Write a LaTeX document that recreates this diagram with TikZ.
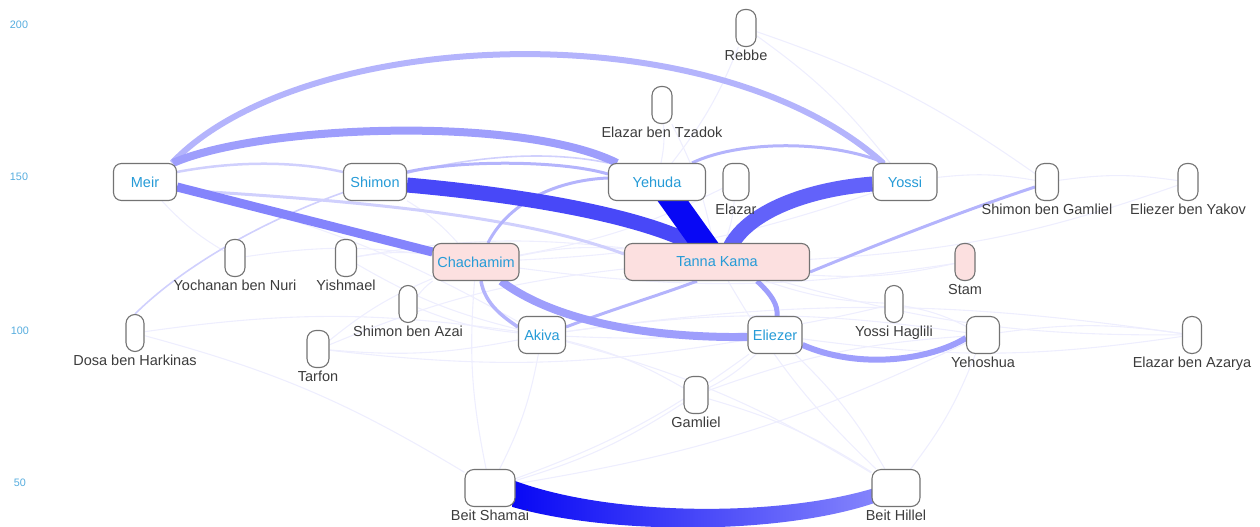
\documentclass[tikz,border=0pt]{standalone}
\usepackage{fontspec}
\setmainfont{Liberation Sans}
\usetikzlibrary{backgrounds}

\definecolor{nameblue}{RGB}{38,155,215}
\definecolor{axisblue}{RGB}{85,172,222}
\definecolor{taggray}{RGB}{60,60,60}
\definecolor{boxgray}{RGB}{115,115,115}
\definecolor{tkpink}{RGB}{252,224,224}
\definecolor{tie0}{RGB}{8,8,245}
\definecolor{tie1}{RGB}{72,72,248}
\definecolor{tie2}{RGB}{98,98,250}
\definecolor{tie3}{RGB}{132,132,252}
\definecolor{tie4}{RGB}{158,158,252}
\definecolor{tie5}{RGB}{180,180,252}
\definecolor{tie6}{RGB}{208,208,253}
\definecolor{tie7}{RGB}{238,238,254}

\newcommand{\rabbifont}{\fontsize{14.5}{17}\selectfont}
\newcommand{\axisfont}{\fontsize{10.8}{13}\selectfont}

\tikzset{
  rabbi/.style={draw=boxgray, line width=1.1pt, rounded corners=8pt, fill=white,
    minimum height=37pt, inner sep=0pt, text=nameblue, font=\rabbifont},
  tkbox/.style={rabbi, fill=tkpink},
  slot/.style={rabbi, minimum width=#1, rounded corners=9pt},
  tag/.style={text=taggray, font=\rabbifont, inner sep=0pt, text height=10.5pt, text depth=3pt},
  axis/.style={text=axisblue, font=\axisfont},
  tie/.style={line width=#1},
  faint/.style={draw=tie7, line width=1.1pt}
}

\begin{document}
\begin{tikzpicture}[x=1pt, y=-1pt, label distance=3pt]
  \useasboundingbox (0,0) rectangle (1260,527);

  % axis
  \node[axis] (ax200) at (19,25) {200};
  \node[axis] (ax150) at (19,177) {150};
  \node[axis] (ax100) at (20,331) {100};
  \node[axis] (ax50) at (20,483) {50};

  % rabbis
  \node[rabbi, minimum width=63pt] (meir) at (145,182) {Meir};
  \node[rabbi, minimum width=63pt] (shimon) at (375,182) {Shimon};
  \node[rabbi, minimum width=97pt] (yehuda) at (657,182) {Yehuda};
  \node[rabbi, minimum width=64pt] (yossi) at (905,182) {Yossi};
  \node[tkbox, minimum width=86pt] (chach) at (476,262) {Chachamim};
  \node[tkbox, minimum width=185pt] (tk) at (717,262) {Tanna Kama};
  \node[rabbi, minimum width=47pt] (akiva) at (542,335) {Akiva};
  \node[rabbi, minimum width=54pt] (eliezer) at (775,335) {Eliezer};

  \node[slot=20pt, label={[tag]below:Rebbe}] (rebbe) at (746,28) {};
  \node[slot=20pt, label={[tag]below:Elazar ben Tzadok}] (tzadok) at (662,105) {};
  \node[slot=26pt, label={[tag]below:Elazar}] (elazar) at (736,182) {};
  \node[slot=23pt, label={[tag]below:Shimon ben Gamliel}] (sbg) at (1047,182) {};
  \node[slot=20pt, label={[tag]below:Eliezer ben Yakov}] (eby) at (1188,182) {};
  \node[slot=20pt, fill=tkpink, label={[tag]below:Stam}] (stam) at (965,262) {};
  \node[slot=20pt, label={[tag]below:Yochanan ben Nuri}] (nuri) at (235,258) {};
  \node[slot=21pt, label={[tag]below:Yishmael}] (ishmael) at (346,258) {};
  \node[slot=18pt, label={[tag]below:Shimon ben Azai}] (azai) at (408,304) {};
  \node[slot=18pt, label={[tag]below:Dosa ben Harkinas}] (dosa) at (135,333) {};
  \node[slot=22pt, label={[tag]below:Tarfon}] (tarfon) at (318,349) {};
  \node[slot=18pt, label={[tag]below:Yossi Haglili}] (haglili) at (894,304) {};
  \node[slot=33pt, label={[tag]below:Yehoshua}] (yehoshua) at (983,335) {};
  \node[slot=19pt, label={[tag]below:Elazar ben Azarya}] (azarya) at (1192,335) {};
  \node[slot=24pt, label={[tag]below:Gamliel}] (gamliel) at (696,395) {};
  \node[slot=50pt, label={[tag]below:Beit Shamai}] (shamai) at (490,488) {};
  \node[slot=48pt, label={[tag]below:Beit Hillel}] (hillel) at (896,488) {};

  \begin{scope}[on background layer]
    % faint web
    \foreach \a/\b in {akiva/tarfon, akiva/ishmael, akiva/azai, akiva/shamai, akiva/gamliel,
        akiva/hillel, akiva/yehoshua, akiva/azarya, eliezer/gamliel, eliezer/shamai,
        eliezer/hillel, eliezer/tarfon, gamliel/hillel, gamliel/shamai, gamliel/yehoshua,
        yehoshua/hillel, yehoshua/shamai, yehoshua/azarya, azarya/tk, azarya/eliezer,
        stam/tk, stam/chach, haglili/tk, haglili/akiva, haglili/yehoshua, yossi/sbg,
        sbg/eby, eby/tk, rebbe/yehuda, rebbe/yossi, rebbe/sbg, tzadok/yehuda, tzadok/tk,
        elazar/tk, elazar/chach, ishmael/chach, ishmael/tk, azai/chach, nuri/chach,
        nuri/meir, dosa/akiva, dosa/shamai, tarfon/chach, tarfon/tk, shimon/chach,
        yossi/chach, meir/akiva, chach/tk, shamai/chach, hillel/tk}
      \draw[faint] (\a) to[bend left=8] (\b);

    % light ties
    \draw[tie=1.6pt, draw=tie6] (dosa.north) .. controls (230,220) and (450,130) .. (yehuda.north west);
    \draw[tie=2.5pt, draw=tie6] ([yshift=10pt]meir.east) .. controls (240,160) and (300,162) .. ([yshift=10pt]shimon.west);
    \draw[tie=3pt, draw=tie6] ([yshift=-8pt]meir.east) .. controls (350,200) and (520,215) .. ([yshift=8pt]tk.west);
    \draw[tie=3pt, draw=tie5] ([yshift=10pt]shimon.east) .. controls (460,160) and (560,160) .. ([yshift=8pt]yehuda.west);
    \draw[tie=3pt, draw=tie5] ([xshift=35pt]yehuda.north) .. controls (740,140) and (830,140) .. ([xshift=-20pt]yossi.north);
    \draw[tie=3pt, draw=tie5] ([yshift=-10pt]tk.east) .. controls (900,235) and (980,205) .. ([yshift=-5pt]sbg.west);
    \draw[tie=3pt, draw=tie5] ([xshift=12pt]chach.north) .. controls (510,200) and (560,180) .. ([yshift=4pt]yehuda.west);
    \draw[tie=3pt, draw=tie5] ([yshift=8pt]akiva.east) .. controls (610,310) and (660,295) .. ([xshift=-20pt]tk.south);
    \draw[tie=3.5pt, draw=tie5] ([xshift=5pt]chach.south) .. controls (485,305) and (505,318) .. ([yshift=8pt]akiva.west);

    % heavier ties
    \draw[tie=5pt, draw=tie4] ([xshift=40pt]tk.south) .. controls (772,295) and (778,305) .. ([xshift=2pt]eliezer.north);
    \draw[tie=6pt, draw=tie4] ([yshift=-10pt]eliezer.east) .. controls (860,370) and (930,360) .. ([yshift=-3pt]yehoshua.west);
    \draw[tie=8pt, draw=tie4] ([xshift=25pt]chach.south) .. controls (560,325) and (660,338) .. ([yshift=-2pt]eliezer.west);
    \draw[tie=6pt, draw=tie5] ([xshift=-5pt]meir.north east) .. controls (300,28) and (710,8) .. ([xshift=-22pt]yossi.north);
    \draw[tie=8pt, draw=tie4] ([xshift=-4pt]meir.north east) .. controls (260,125) and (520,115) .. ([xshift=-40pt]yehuda.north);
    \draw[tie=9pt, draw=tie3] ([yshift=-5pt]meir.east) -- ([yshift=10pt]chach.west);
    \draw[tie=15pt, draw=tie2, shorten >=-6pt] ([yshift=-2pt]yossi.west) .. controls (800,190) and (745,215) .. ([xshift=15pt]tk.north);
    \draw[tie=15pt, draw=tie1, shorten >=-6pt] ([yshift=-3pt]shimon.east) .. controls (520,195) and (640,215) .. ([xshift=-25pt]tk.north);
    \draw[tie=25pt, draw=tie0, shorten <=-10pt, shorten >=-10pt] ([xshift=16pt]yehuda.south) -- ([xshift=-14pt]tk.north);

    % Beit Shamai -- Beit Hillel
    \shade[left color=tie0, right color=tie3]
      ([xshift=-3pt, yshift=8pt]shamai.east) .. controls (610,517) and (780,517) .. ([xshift=3pt]hillel.west)
      -- ([xshift=3pt, yshift=-15pt]hillel.west) .. controls (780,535) and (610,535) .. ([xshift=-3pt, yshift=-19pt]shamai.east)
      -- cycle;
  \end{scope}
\end{tikzpicture}
\end{document}
